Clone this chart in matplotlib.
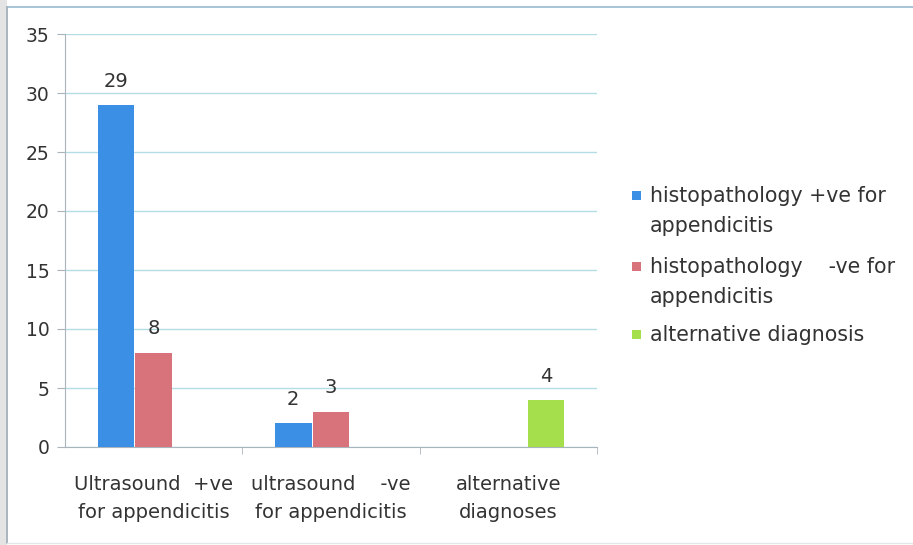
import numpy as np
import matplotlib.pyplot as plt
from matplotlib.lines import Line2D
from matplotlib.patches import Rectangle

# categories along the x axis and the three series
categories = ["Ultrasound  +ve\nfor appendicitis", "ultrasound    -ve\nfor appendicitis", "alternative\ndiagnoses"]
series_names = ["histopathology +ve for\nappendicitis", "histopathology    -ve for\nappendicitis", "alternative diagnosis"]
hist_pos = [29, 2, 0]
hist_neg = [8, 3, 0]
alt_diag = [0, 0, 4]
colors = ["#3b8fe4", "#d8737c", "#a5df4c"]
y_ticks = [0, 5, 10, 15, 20, 25, 30, 35]

text_color = "#333333"
grid_color = "#b4dce4"
frame_color = "#a9b4bc"

W, H = 913, 545
fig = plt.figure(figsize=(W / 100, H / 100), dpi=100)
fig.patch.set_facecolor("white")

# shaded strip on the left and the chart frame (top, left, bottom edges)
fig.patches.append(Rectangle((0, 0), 7 / W, 1, transform=fig.transFigure,
                             facecolor="#e4e4e4", edgecolor="none", zorder=0))
fx0, fy0, fy1 = 7 / W, 2 / H, 1 - 7 / H
fig.lines.append(Line2D([fx0, 1], [fy1, fy1], transform=fig.transFigure,
                        color="#a8c4d4", linewidth=1.4))
fig.lines.append(Line2D([fx0, fx0], [fy0, fy1], transform=fig.transFigure,
                        color=frame_color, linewidth=1.4))
fig.lines.append(Line2D([fx0, 1], [fy0, fy0], transform=fig.transFigure,
                        color="#e4e8ea", linewidth=1.0))

ax = fig.add_axes([65 / W, 1 - 447 / H, 532 / W, 413 / H])

x = np.arange(len(categories))
w = 0.213
data = [hist_pos, hist_neg, alt_diag]
for i, (vals, col, name) in enumerate(zip(data, colors, series_names)):
    bars = ax.bar(x + (i - 1) * w, vals, width=w * 0.97, color=col, label=name, zorder=3)
    for b, v in zip(bars, vals):
        if v > 0:
            ax.text(b.get_x() + b.get_width() / 2, v + 1.2, str(v), ha="center",
                    va="bottom", fontsize=14, color=text_color)

ax.set_xlim(-0.5, 2.5)
ax.set_ylim(0, 35)
ax.set_yticks(y_ticks)
ax.set_yticklabels([str(t) for t in y_ticks], fontsize=13.5, color=text_color)
ax.yaxis.grid(True, color=grid_color, linewidth=1.0, zorder=0)
ax.set_axisbelow(True)

# category labels centred under each group, ticks at group boundaries
ax.set_xticks(x)
ax.set_xticklabels(categories, fontsize=14, color=text_color, linespacing=1.6)
ax.tick_params(axis="x", length=0, pad=20)
ax.set_xticks([0.5, 1.5, 2.5], minor=True)
ax.tick_params(axis="x", which="minor", length=5, color=frame_color)
ax.tick_params(axis="y", length=6, color=frame_color, pad=5)

for side in ["top", "right"]:
    ax.spines[side].set_visible(False)
for side in ["left", "bottom"]:
    ax.spines[side].set_color(frame_color)

# legend drawn by hand so each marker sits beside the first line of its label
entry_tops = [186, 257, 325]
for name, col, top in zip(series_names, colors, entry_tops):
    fig.patches.append(Rectangle((632 / W, 1 - (top + 14) / H), 9 / W, 9 / H,
                                 transform=fig.transFigure, facecolor=col,
                                 edgecolor="none"))
    fig.text(650 / W, 1 - top / H, name, ha="left", va="top", fontsize=14.8,
             color=text_color, linespacing=1.6)

fig.savefig("out.png", dpi=100)
